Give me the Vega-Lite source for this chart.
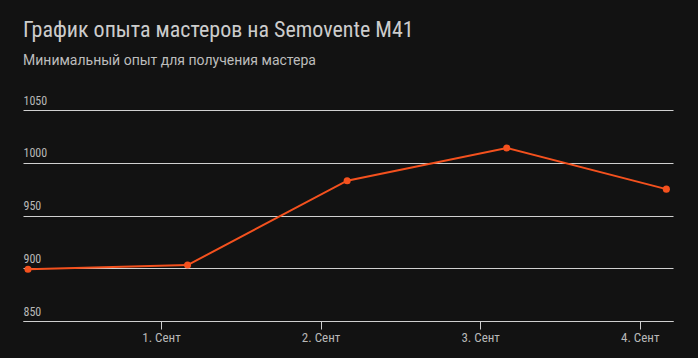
{
  "$schema": "https://vega.github.io/schema/vega-lite/v6.json",
  "width": 650,
  "height": 211,
  "autosize": {"type": "none"},
  "padding": {"left": 23, "top": 110, "right": 25, "bottom": 37},
  "background": "#121212",
  "title": {
    "text": "График опыта мастеров на Semovente M41",
    "subtitle": "Минимальный опыт для получения мастера",
    "anchor": "start",
    "frame": "group",
    "offset": 25,
    "font": "Roboto Condensed, Liberation Sans Narrow, DejaVu Sans Condensed, Roboto",
    "fontSize": 22,
    "fontWeight": "normal",
    "color": "#cccccc",
    "subtitleFont": "Roboto",
    "subtitleFontSize": 14,
    "subtitleColor": "#bdbdbd",
    "subtitlePadding": 12
  },
  "config": {
    "view": {"stroke": null},
    "font": "Roboto Condensed, Liberation Sans Narrow, DejaVu Sans Condensed, Roboto"
  },
  "data": {
    "values": [
      {"date": "2023-08-31T04:00:00Z", "xp": 899},
      {"date": "2023-09-01T04:00:00Z", "xp": 903},
      {"date": "2023-09-02T04:00:00Z", "xp": 983},
      {"date": "2023-09-03T04:00:00Z", "xp": 1014},
      {"date": "2023-09-04T04:00:00Z", "xp": 975}
    ]
  },
  "mark": {"type": "line", "color": "#f4511e", "strokeWidth": 2, "point": {"filled": true, "size": 50, "color": "#f4511e", "opacity": 1}},
  "encoding": {
    "x": {
      "field": "date",
      "type": "temporal",
      "title": null,
      "scale": {"type": "utc", "domain": ["2023-08-31T03:15:00Z", "2023-09-04T05:00:00Z"]},
      "axis": {
        "values": [
          {"year": 2023, "month": 9, "date": 1, "utc": true},
          {"year": 2023, "month": 9, "date": 2, "utc": true},
          {"year": 2023, "month": 9, "date": 3, "utc": true},
          {"year": 2023, "month": 9, "date": 4, "utc": true}
        ],
        "labelExpr": "utcFormat(datum.value, '%-d') + '. Сент'",
        "grid": false,
        "domainColor": "#cfcfcf",
        "tickColor": "#cfcfcf",
        "tickSize": 8,
        "labelColor": "#b8b8b8",
        "labelFontSize": 13,
        "labelPadding": 2
      }
    },
    "y": {
      "field": "xp",
      "type": "quantitative",
      "title": null,
      "scale": {"domain": [850, 1050], "nice": false, "zero": false},
      "axis": {
        "values": [850, 900, 950, 1000, 1050],
        "format": "d",
        "domain": false,
        "ticks": false,
        "gridColor": "#d0d0d0",
        "gridOpacity": 1,
        "labelAlign": "left",
        "labelBaseline": "bottom",
        "labelPadding": 0,
        "labelOffset": -3,
        "labelColor": "#b8b8b8",
        "labelFontSize": 12
      }
    }
  }
}
